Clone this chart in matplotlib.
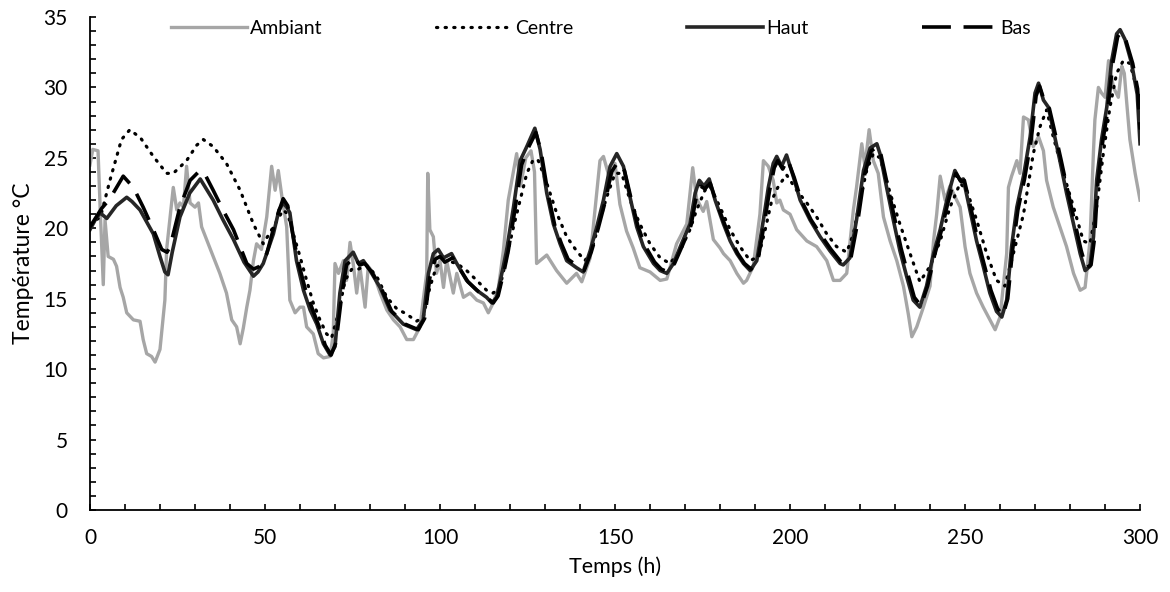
import matplotlib
matplotlib.use("Agg")
import matplotlib.pyplot as plt
from matplotlib.ticker import MultipleLocator

# Données (temps en h, température en °C)
ambiant_t = [0, 0.8, 2.3, 2.9, 3.8, 4.3, 5.2, 6.7, 7.6, 8.6, 9.5, 10.5, 12.4, 14.3, 15.2, 16.2,
             17.6, 18.6, 20.0, 21.4, 21.9, 22.9, 23.8, 24.8, 25.7, 26.7, 27.6, 28.6, 30.0, 31.0,
             31.9, 33.3, 35.2, 37.1, 39.0, 40.5, 41.9, 42.9, 43.8, 44.8, 45.7, 46.7, 47.6, 49.0,
             50.5, 51.9, 52.9, 53.8, 54.8, 56.2, 57.1, 58.6, 60.0, 61.0, 61.9, 63.8, 65.2, 66.7,
             68.6, 69.5, 70.0, 71.0, 72.4, 73.3, 74.3, 75.2, 76.2, 77.1, 78.6, 79.5, 81.0, 82.9,
             84.8, 86.7, 88.6, 90.5, 92.4, 94.3, 95.2, 96.2, 96.5, 97.1, 98.1, 99.0, 100.0, 101.0,
             101.9, 102.9, 103.8, 104.8, 106.7, 108.6, 110.5, 112.4, 113.8, 115.2, 116.7, 118.1,
             119.5, 121.9, 123.0, 124.5, 126.0, 127.0, 127.6, 130.5, 133.3, 136.2, 139.0, 140.5,
             142.9, 145.7, 146.7, 148.6, 150.0, 151.4, 153.3, 155.2, 157.1, 160.0, 162.9, 164.8,
             167.6, 170.5, 172.2, 173.3, 175.2, 176.2, 178.1, 180.0, 181.0, 182.9, 184.8, 186.7,
             187.6, 189.5, 191.4, 192.4, 193.8, 195.2, 196.2, 197.1, 198.1, 200.0, 201.9, 204.8,
             207.6, 210.5, 212.4, 214.3, 216.2, 218.1, 219.0, 220.5, 221.4, 222.6, 223.8, 225.2,
             226.7, 228.6, 230.5, 232.4, 233.8, 234.8, 236.2, 238.1, 240.0, 241.0, 241.9, 242.9,
             244.3, 245.7, 247.6, 248.6, 250.0, 251.4, 253.3, 255.2, 257.1, 258.6, 260.0, 261.9,
             262.4, 263.3, 264.8, 265.7, 266.7, 268.1, 269.5, 271.0, 272.4, 273.3, 275.2, 277.1,
             279.0, 281.0, 282.9, 284.3, 285.7, 286.7, 287.1, 288.1, 289.0, 290.0, 291.0, 292.4,
             293.8, 294.8, 295.5, 296.2, 297.1, 298.6, 300.0]
ambiant = [24.5, 25.6, 25.5, 21.5, 16.0, 20.6, 18.0, 17.8, 17.3, 15.8, 15.1, 14.0, 13.5, 13.4, 12.1, 11.1,
           10.9, 10.5, 11.4, 14.9, 18.5, 20.8, 22.9, 21.3, 21.8, 21.5, 24.4, 21.8, 21.5, 21.8,
           20.1, 19.2, 18.0, 16.8, 15.4, 13.5, 13.0, 11.8, 12.9, 14.4, 15.6, 17.7, 18.9, 18.5,
           20.8, 24.4, 22.7, 24.1, 22.3, 20.1, 14.9, 14.0, 14.4, 14.4, 13.0, 12.5, 11.1, 10.8,
           10.9, 12.5, 17.5, 16.8, 17.7, 16.3, 19.0, 17.5, 15.4, 17.3, 14.4, 17.3, 16.8, 15.4,
           14.2, 13.5, 13.0, 12.1, 12.1, 13.0, 14.9, 16.8, 23.9, 19.9, 19.4, 16.8, 17.7, 15.8,
           17.7, 16.5, 15.4, 16.8, 15.1, 15.4, 14.9, 14.7, 14.0, 14.7, 15.8, 18.4,
           22.0, 25.3, 23.0, 25.0, 25.5, 24.0, 17.5, 18.1, 17.0, 16.1, 16.8, 16.2,
           17.9, 24.8, 25.1, 23.4, 24.6, 21.7, 19.8, 18.6, 17.2, 16.9, 16.3, 16.4,
           18.9, 20.3, 24.3, 22.1, 21.2, 21.9, 19.2, 18.6, 18.2, 17.7, 16.8, 16.1,
           16.3, 17.3, 21.0, 24.8, 24.4, 23.4, 21.8, 22.0, 21.3, 21.0, 19.9, 19.1,
           18.7, 17.7, 16.3, 16.3, 16.8, 21.3, 22.9, 26.0, 24.4, 27.0, 24.8, 23.9,
           20.8, 19.1, 17.7, 15.9, 13.9, 12.3, 13.0, 14.4, 15.9, 19.1, 21.0, 23.7,
           22.0, 23.0, 22.0, 21.5, 18.7, 16.8, 15.4, 14.4, 13.5, 12.8, 13.7, 18.2,
           22.9, 23.7, 24.8, 23.9, 27.9, 27.7, 25.8, 26.5, 25.5, 23.4, 21.5, 20.1,
           18.7, 16.8, 15.6, 15.8, 19.1, 25.5, 27.7, 30.0, 29.6, 29.3, 31.9, 30.0,
           29.3, 31.5, 31.0, 28.9, 26.3, 23.9, 22.0]

centre_t = [0, 3.0, 5.7, 9.0, 11.4, 14.5, 18.1, 21.9, 23.8, 27.6, 30.5, 32.4, 35.2, 39.0, 42.9,
            46.7, 49.5, 52.4, 55.2, 56.5, 58.1, 60.0, 61.9, 63.8, 65.7, 67.6, 69.0, 70.9, 72.9,
            74.8, 76.7, 79.0, 81.9, 84.8, 87.6, 90.5, 93.3, 95.2, 97.1, 99.0, 101.9, 104.8, 107.6,
            110.5, 113.3, 115.2, 117.1, 119.0, 121.0, 122.9, 124.8, 126.7, 128.1, 130.5, 133.3,
            136.2, 139.0, 141.4, 143.3, 145.7, 147.6, 150.0, 151.9, 154.3, 157.1, 160.0, 162.9,
            165.7, 168.6, 171.4, 173.3, 175.7, 177.1, 180.0, 182.9, 185.7, 188.6, 191.0, 192.9,
            194.8, 196.7, 199.0, 201.9, 204.8, 207.6, 210.5, 213.3, 216.2, 218.1, 220.0, 221.9,
            223.8, 225.7, 228.6, 231.4, 234.3, 237.1, 240.0, 242.9, 245.7, 248.6, 250.5, 253.3,
            256.2, 259.0, 261.4, 263.8, 266.7, 269.5, 271.4, 273.3, 275.2, 278.1, 281.0, 283.8,
            285.7, 287.6, 289.5, 291.4, 293.3, 295.2, 297.1, 299.0, 300.0]
centre = [20.3, 20.8, 23.4, 26.3, 27.0, 26.4, 25.1, 23.9, 23.9, 24.8, 25.9, 26.3, 25.8, 24.6, 22.7,
          20.3, 18.9, 20.1, 21.3, 21.0, 19.6, 18.0, 16.3, 14.7, 13.5, 12.5, 12.2, 13.9, 16.3,
          17.1, 17.1, 17.4, 16.6, 15.1, 14.3, 13.9, 13.4, 13.7, 15.8, 17.3, 17.7, 17.5, 17.0,
          16.3, 15.6, 15.4, 15.8, 17.9, 20.1, 22.0, 23.9, 24.9, 24.8, 23.2, 21.1,
          19.4, 18.4, 17.7, 18.4, 20.6, 22.2, 23.9, 23.9, 22.0, 20.3, 18.9, 17.9,
          17.5, 18.4, 19.9, 21.3, 22.7, 23.0, 21.5, 19.9, 18.7, 17.7, 18.0, 19.9,
          22.0, 23.0, 23.8, 22.7, 21.8, 20.8, 19.6, 18.7, 18.3, 19.6, 22.0, 24.1,
          25.3, 25.0, 22.5, 20.3, 18.2, 16.2, 17.3, 19.1, 21.5, 23.2, 22.7, 20.6,
          18.2, 16.3, 15.9, 18.2, 21.0, 25.3, 27.2, 28.4, 26.5, 23.9, 21.5, 19.1,
          18.9, 21.5, 25.3, 28.6, 31.0, 31.9, 31.7, 30.0, 29.1]

haut_t = [0, 1.5, 2.9, 4.8, 7.5, 10.5, 12.0, 14.3, 18.1, 20.0, 21.4, 22.3, 23.5, 25.7, 28.5, 31.5,
          35.2, 38.0, 41.0, 44.0, 46.7, 48.0, 49.5, 52.4, 54.0, 55.2, 56.2, 57.1, 59.0, 61.0, 62.9,
          64.8, 66.7, 68.6, 70.0, 71.4, 72.9, 75.2, 76.7, 78.1, 80.0, 82.9, 85.7, 89.5, 93.3, 95.2,
          96.7, 98.1, 99.5, 101.0, 103.3, 104.8, 107.6, 110.5, 113.3, 114.8, 116.2, 118.1, 119.0,
          121.0, 122.9, 124.8, 127.1, 128.6, 130.5, 132.4, 134.3, 136.2, 139.0, 140.9, 142.9,
          144.8, 146.7, 148.6, 150.5, 152.4, 154.3, 156.2, 158.1, 161.0, 162.9, 164.8, 166.7,
          169.0, 171.4, 172.9, 174.1, 175.4, 176.9, 178.6, 181.0, 182.9, 184.8, 186.7, 188.6,
          190.5, 192.4, 193.8, 195.2, 196.2, 197.6, 199.0, 200.9, 202.9, 205.7, 208.6, 211.4,
          214.3, 215.2, 217.1, 219.0, 221.0, 222.9, 224.8, 225.7, 227.6, 229.5, 231.4, 233.3,
          235.2, 237.1, 239.0, 241.0, 242.9, 244.8, 247.1, 248.6, 249.5, 251.4, 253.3, 255.2,
          257.1, 259.0, 260.5, 261.9, 263.3, 264.8, 266.7, 268.6, 270.0, 271.0, 272.4, 273.8,
          275.2, 277.1, 279.0, 281.0, 282.9, 284.3, 285.7, 286.7, 287.6, 289.0, 290.5, 291.9,
          293.3, 294.3, 295.7, 297.6, 299.2, 300.0]
haut = [19.9, 20.6, 21.1, 20.7, 21.6, 22.2, 21.9, 21.3, 19.6, 18.0, 16.9, 16.7, 18.3, 20.8, 22.5, 23.5,
        22.0, 20.6, 19.2, 17.6, 16.6, 16.9, 17.5, 19.6, 21.3, 21.8, 21.5, 21.1, 17.7, 15.6, 14.2,
        13.2, 11.8, 11.0, 11.6, 15.4, 17.7, 18.3, 17.5, 17.7, 17.0, 15.8, 14.2, 13.2, 12.8, 13.5,
        16.8, 18.2, 18.5, 17.9, 18.2, 17.5, 16.3, 15.6, 15.1, 14.7, 15.1, 17.3, 18.4,
        21.5, 24.8, 25.8, 27.1, 25.6, 22.5, 20.3, 18.9, 17.7, 17.2, 16.9, 18.4,
        20.1, 22.0, 24.4, 25.3, 24.4, 22.2, 20.1, 18.7, 17.5, 17.0, 16.8, 17.5,
        18.9, 20.3, 22.5, 23.4, 23.0, 23.5, 22.0, 20.3, 19.1, 18.2, 17.5, 17.0,
        17.7, 20.6, 22.9, 24.6, 25.1, 24.4, 25.2, 23.7, 22.0, 20.6, 19.4, 18.4,
        17.5, 17.4, 17.9, 20.6, 24.1, 25.7, 26.0, 25.3, 22.9, 20.6, 18.4, 16.6,
        14.9, 14.4, 15.9, 18.2, 19.9, 22.0, 24.1, 23.4, 23.5, 21.3, 19.1, 17.3,
        15.4, 14.1, 13.7, 14.9, 18.7, 21.5, 23.7, 26.5, 29.6, 30.3, 29.1, 28.6,
        27.0, 24.8, 22.5, 20.3, 18.2, 17.0, 17.3, 19.4, 23.4, 26.3, 28.6, 31.9,
        33.8, 34.1, 33.4, 31.7, 29.5, 26.0]

bas_t = [0, 3.3, 5.7, 9.5, 12.4, 15.2, 18.1, 20.5, 22.0, 22.9, 25.7, 28.6, 31.4, 32.5, 35.2, 38.0,
         41.0, 44.8, 46.7, 48.5, 50.5, 53.0, 55.2, 56.5, 58.0, 59.5, 61.5, 63.5, 65.5, 67.2, 68.9,
         70.3, 71.8, 73.3, 75.6, 77.0, 78.5, 80.5, 83.3, 86.2, 90.0, 93.8, 95.6, 97.1, 98.6, 100.0,
         101.4, 103.6, 105.2, 108.0, 111.0, 113.8, 115.2, 116.6, 118.5, 119.5, 121.4, 123.3,
         125.2, 127.4, 128.9, 130.9, 132.8, 134.7, 136.6, 139.4, 141.2, 143.2, 145.2, 147.1,
         149.0, 150.8, 152.7, 154.6, 156.5, 158.5, 161.3, 163.2, 165.1, 167.0, 169.3, 171.7,
         173.2, 174.4, 175.7, 177.2, 178.9, 181.3, 183.2, 185.1, 187.0, 188.9, 190.8, 192.7,
         194.1, 195.5, 196.5, 197.9, 199.3, 201.2, 203.2, 206.0, 208.9, 211.7, 214.6, 215.5,
         217.4, 219.3, 221.3, 223.2, 225.1, 226.0, 227.9, 229.8, 231.7, 233.6, 235.5, 237.4,
         239.3, 241.3, 243.2, 245.1, 247.4, 248.9, 249.8, 251.7, 253.6, 255.5, 257.4, 259.3,
         260.8, 262.2, 263.6, 265.1, 267.0, 268.9, 270.3, 271.3, 272.7, 274.1, 275.5, 277.4,
         279.3, 281.3, 283.2, 284.6, 286.0, 287.0, 287.9, 289.3, 290.8, 292.2, 293.6, 294.6,
         296.0, 297.9, 299.3, 300.0]
bas = [20.1, 21.4, 22.1, 23.7, 22.9, 21.5, 19.9, 18.5, 18.3, 18.7, 21.5, 23.4, 24.1, 24.0, 22.7, 21.3,
       19.9, 17.5, 17.1, 17.3, 18.2, 20.5, 22.1, 21.6, 19.5, 17.6, 15.7, 14.3, 13.0, 11.7, 11.0,
       11.9, 15.0, 17.4, 18.0, 17.4, 17.5, 16.9, 15.7, 14.1, 13.2, 12.8, 13.6, 16.5, 17.8, 18.0,
       17.6, 17.9, 17.3, 16.2, 15.5, 15.0, 14.7, 15.2, 17.2, 18.4, 21.3, 24.5,
       25.7, 26.8, 25.4, 22.4, 20.2, 18.9, 17.8, 17.3, 17.0, 18.3, 20.0, 21.8,
       24.0, 24.7, 24.1, 22.1, 20.2, 18.8, 17.6, 17.1, 16.9, 17.5, 18.8, 20.2,
       22.2, 23.0, 22.8, 23.2, 21.9, 20.3, 19.1, 18.2, 17.5, 17.1, 17.7, 20.4,
       22.6, 24.3, 24.8, 24.2, 24.9, 23.6, 22.0, 20.6, 19.5, 18.5, 17.6, 17.5,
       17.9, 20.4, 23.8, 25.5, 25.8, 25.2, 23.0, 20.8, 18.6, 16.8, 15.1, 14.5,
       15.9, 18.1, 19.8, 21.8, 23.9, 23.3, 23.4, 21.4, 19.2, 17.4, 15.6, 14.3,
       13.8, 15.0, 18.5, 21.3, 23.5, 26.3, 29.4, 30.1, 29.0, 28.5, 27.0, 24.9,
       22.7, 20.5, 18.4, 17.2, 17.4, 19.3, 23.1, 26.1, 28.4, 31.7, 33.6, 33.9,
       33.3, 31.7, 29.9, 27.0]

plt.rcParams['font.family'] = ['Lato', 'DejaVu Sans']

fig = plt.figure(figsize=(11.7, 5.92), dpi=100)
ax = fig.add_axes([0.0769, 0.1385, 0.8975, 0.8328])

ax.plot(ambiant_t, ambiant, color='#a6a6a6', lw=2.4, label='Ambiant')
ax.plot(centre_t, centre, color='black', lw=2.3, linestyle=(0, (0.4, 2.3)),
        dash_capstyle='round', label='Centre')
ax.plot(haut_t, haut, color='#262626', lw=2.6, label='Haut')
ax.plot(bas_t, bas, color='black', lw=2.6, linestyle=(0, (8, 3.5)), label='Bas')

ax.set_xlim(0, 300)
ax.set_ylim(0, 35)
ax.xaxis.set_major_locator(MultipleLocator(50))
ax.xaxis.set_minor_locator(MultipleLocator(10))
ax.yaxis.set_major_locator(MultipleLocator(5))
ax.yaxis.set_minor_locator(MultipleLocator(1))
ax.tick_params(which='both', direction='in', length=4, width=1.2, labelsize=15)
ax.tick_params(axis='x', which='major', pad=13)
ax.tick_params(axis='y', which='major', pad=16)

for s in ['top', 'right']:
    ax.spines[s].set_visible(False)
for s in ['left', 'bottom']:
    ax.spines[s].set_linewidth(1.3)

ax.set_xlabel('Temps (h)', fontsize=15.5, labelpad=6)
ax.set_ylabel('Température °C', fontsize=16.5, labelpad=7)

ax.legend(loc='upper center', bbox_to_anchor=(0.487, 1.01), ncol=4, frameon=False,
          fontsize=14, handlelength=3.9, handletextpad=0.15, columnspacing=5.85,
          borderaxespad=0)

fig.savefig('out.png', dpi=100)
